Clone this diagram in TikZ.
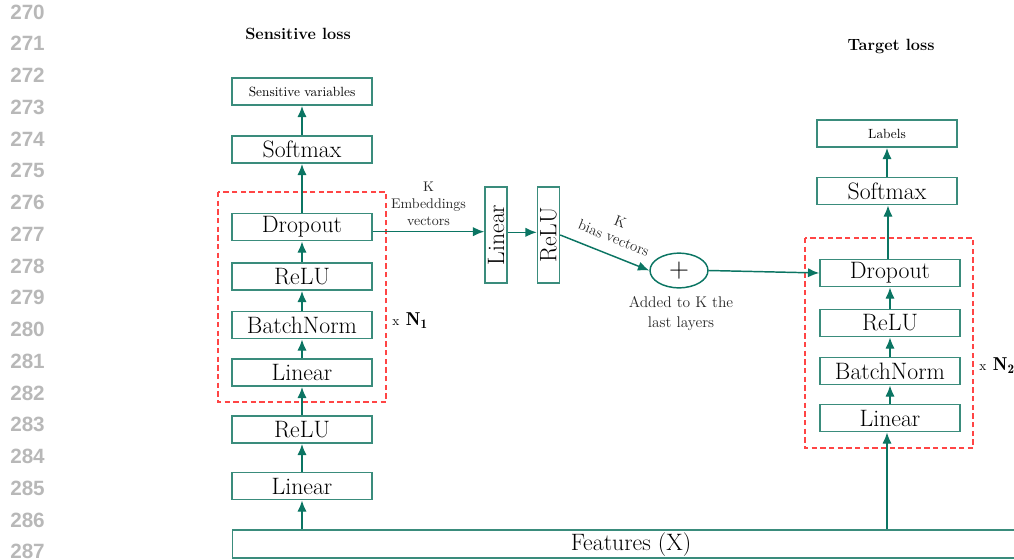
\documentclass[tikz,border=0pt]{standalone}
\usepackage{fontspec}
\newfontfamily\numfont{Liberation Sans}
\usetikzlibrary{arrows.meta,shapes.geometric}
\definecolor{tealline}{HTML}{0B7563}
\definecolor{tealbox}{HTML}{3A8C7C}
\definecolor{dashred}{HTML}{FF4545}
\definecolor{lineno}{HTML}{B8B8B8}
\tikzset{
  layer/.style={draw=tealbox, line width=1.1pt, minimum width=105pt, minimum height=20.5pt,
    inner sep=0pt, font=\fontsize{17.8}{20}\selectfont},
  outbox/.style={layer, font=\fontsize{10}{11}\selectfont},
  vlayer/.style={draw=tealbox, line width=1.1pt, minimum width=72pt, minimum height=16.5pt,
    inner sep=0pt, rotate=90, font=\fontsize{17.8}{20}\selectfont},
  flow/.style={draw=tealline, line width=1.1pt, -{Latex[length=8.5pt,width=7pt]}},
  repeatbox/.style={draw=dashred, line width=1.1pt, dash pattern=on 4pt off 2.5pt},
  title/.style={font=\fontsize{12.2}{14}\selectfont\bfseries},
  note/.style={align=center, font=\fontsize{10.5}{12.75}\selectfont, text=black!85},
  lnum/.style={anchor=west, font=\numfont\bfseries\fontsize{15.5}{18}\selectfont, text=lineno, inner sep=0pt},
}
\begin{document}
\begin{tikzpicture}[x=0.75pt,y=-0.75pt]
\useasboundingbox (0,0) rectangle (1014,560);

% line numbers in the margin
\foreach \n [count=\i from 0] in {270,...,287}
  \node[lnum] (ln\n) at (10, 12+31.75*\i) {\n};

% titles
\node[title] (tsens) at (298,34) {Sensitive loss};
\node[title] (ttarg) at (891,46) {Target loss};

% sensitive branch
\node[outbox] (sens)  at (302,91.5)  {Sensitive variables};
\node[layer]  (smx1)  at (302,149.5) {Softmax};
\node[layer]  (drop1) at (302,227)   {Dropout};
\node[layer]  (relu1) at (302,276.5) {ReLU};
\node[layer]  (bn1)   at (302,325)   {BatchNorm};
\node[layer]  (lin1)  at (302,372.5) {Linear};
\node[layer]  (relu0) at (302,429.5) {ReLU};
\node[layer]  (lin0)  at (302,486)   {Linear};

% shared input
\node[layer, minimum width=597pt, minimum height=21pt, anchor=west] (feat) at (232,544) {\hspace*{0pt}};
\node[font=\fontsize{17.8}{20}\selectfont] (feattext) at (631,545) {Features (X)};

% repeated block, sensitive side
\draw[repeatbox] (218,192) rectangle (386,402);
\node[anchor=west, inner sep=0pt] (n1) at (392,321)
  {{\fontsize{10}{12}\selectfont x}\, {\fontsize{14}{16}\selectfont$\mathbf{N}_{\mathbf{1}}$}};

\draw[flow] (feat.north -| lin0) -- (lin0.south);
\draw[flow] (lin0) -- (relu0);
\draw[flow] (relu0) -- (lin1);
\draw[flow] (lin1) -- (bn1);
\draw[flow] (bn1) -- (relu1);
\draw[flow] (relu1) -- (drop1);
\draw[flow] (drop1) -- (smx1);
\draw[flow] (smx1) -- (sens);

% target branch
\node[outbox] (labels) at (887,133.5) {Labels};
\node[layer]  (smx2)  at (887,191) {Softmax};
\node[layer]  (drop2) at (890,273) {Dropout};
\node[layer]  (relu2) at (890,323) {ReLU};
\node[layer]  (bn2)   at (890,371) {BatchNorm};
\node[layer]  (lin2)  at (890,418) {Linear};

\draw[repeatbox] (805,238) rectangle (973,448);
\node[anchor=west, inner sep=0pt] (n2) at (979,366)
  {{\fontsize{10}{12}\selectfont x}\, {\fontsize{14}{16}\selectfont$\mathbf{N}_{\mathbf{2}}$}};

\draw[flow] (feat.north -| 887,0) -- (lin2.south -| 887,0);
\draw[flow] (lin2) -- (bn2);
\draw[flow] (bn2) -- (relu2);
\draw[flow] (relu2) -- (drop2);
\draw[flow] (drop2.north -| 888,0) -- (smx2.south -| 888,0);
\draw[flow] (smx2) -- (labels);

% embedding path
\node[vlayer] (linv)  at (496,235) {Linear};
\node[vlayer] (reluv) at (548.5,235) {ReLU};
\node[draw=tealline, line width=1.1pt, ellipse, minimum width=43.5pt, minimum height=26pt,
      inner sep=0pt, font=\fontsize{20}{22}\selectfont] (plus) at (679,270.5) {$+$};

\coordinate (embout) at ([yshift=-3.5pt]drop1.east);
\draw[flow] (embout) -- node[note, above=1pt] {K\\Embeddings\\vectors} (embout -| linv.north);
\draw[flow] ([yshift=2pt]linv.south) -- ([yshift=2pt]reluv.north);
\draw[flow] (reluv.south) -- node[note, font=\fontsize{11.2}{13}\selectfont, pos=0.53, above=5pt, sloped]
  {K\\bias vectors} (plus.west);
\node[note, font=\fontsize{11.6}{15}\selectfont] (addnote) at (681,314) {Added to K the\\last layers};
\draw[flow] (plus.east) -- (drop2.west);
\end{tikzpicture}
\end{document}
